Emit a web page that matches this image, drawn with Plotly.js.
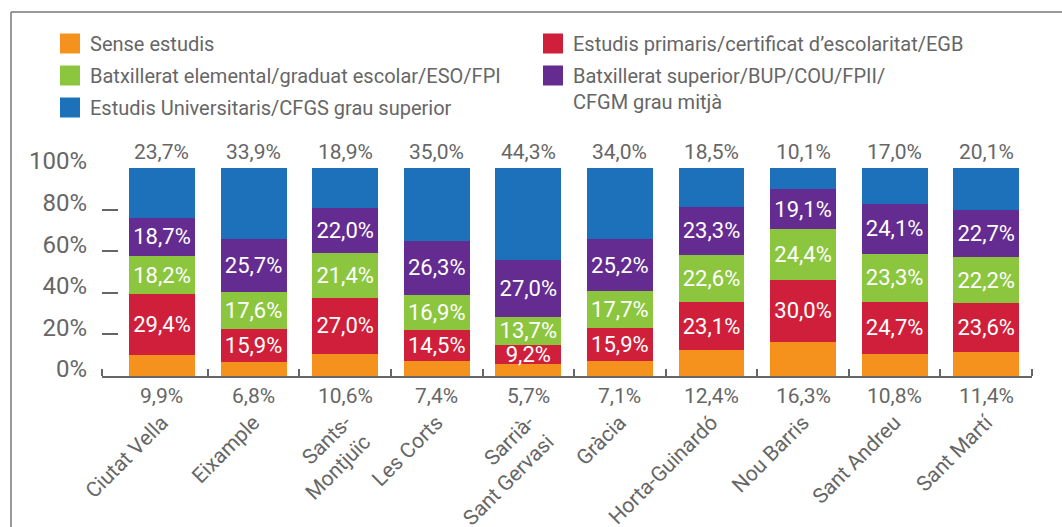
<!DOCTYPE html>
<html>
<head>
<meta charset="utf-8">
<script src="https://cdn.plot.ly/plotly-3.0.1.min.js"></script>
<style>html,body{margin:0;padding:0;background:#fff;}#chart{width:1062px;height:527px;}</style>
</head>
<body>
<div id="chart"></div>
<script>
const categories = ['Ciutat Vella','Eixample','Sants-Montjuïc','Les Corts','Sarrià-Sant Gervasi','Gràcia','Horta-Guinardó','Nou Barris','Sant Andreu','Sant Martí'];
const tickLabels = ['Ciutat Vella','Eixample','Sants-<br>Montjuïc','Les Corts','Sarrià-<br>Sant Gervasi','Gràcia','Horta-Guinardó','Nou Barris','Sant Andreu','Sant Martí'];
const senseEstudis = [9.9,6.8,10.6,7.4,5.7,7.1,12.4,16.3,10.8,11.4];
const primaris = [29.4,15.9,27.0,14.5,9.2,15.9,23.1,30.0,24.7,23.6];
const elemental = [18.2,17.6,21.4,16.9,13.7,17.7,22.6,24.4,23.3,22.2];
const superior = [18.7,25.7,22.0,26.3,27.0,25.2,23.3,19.1,24.1,22.7];
const universitaris = [23.7,33.9,18.9,35.0,44.3,34.0,18.5,10.1,17.0,20.1];
const seriesNames = ['Sense estudis','Estudis primaris/certificat d’escolaritat/EGB','Batxillerat elemental/graduat escolar/ESO/FPI','Batxillerat superior/BUP/COU/FPII/<br>CFGM grau mitjà','Estudis Universitaris/CFGS grau superior'];
const yTickVals = [0,20,40,60,80,100];
const yTickText = ['0%','20%','40%','60%','80%','100%'];

const GRAY = '#666666';
const FONT = 'Roboto, "Noto Sans", sans-serif';
const fmt = v => v.toFixed(1).replace('.', ',') + '%';
const xs = categories.map((c, i) => i);

const series = [senseEstudis, primaris, elemental, superior, universitaris];
const colors = ['#F5921E', '#D01F3A', '#8CC63F', '#642C90', '#1D71BB'];
const legendFor = ['legend', 'legend2', 'legend', 'legend2', 'legend'];

const traces = series.map((vals, k) => ({
  type: 'bar',
  x: xs,
  y: vals,
  name: seriesNames[k],
  customdata: categories,
  marker: {color: colors[k], line: {width: 0}},
  text: (k === 0 || k === 4) ? vals.map(() => '') : vals.map(fmt),
  textposition: (k === 0 || k === 4) ? 'none' : 'inside',
  insidetextanchor: 'middle',
  textangle: 0,
  constraintext: 'none',
  insidetextfont: {color: '#ffffff', size: 22, family: FONT},
  legend: legendFor[k],
  legendgroup: 'g' + k,
  hovertemplate: '%{customdata}: %{y}%<extra>' + seriesNames[k] + '</extra>'
}));

const totals = xs.map(i => series.reduce((s, arr) => s + arr[i], 0));
const annotations = [];
xs.forEach(i => {
  annotations.push({x: i, y: Math.min(totals[i], 100), xref: 'x', yref: 'y', text: fmt(universitaris[i]), showarrow: false,
    yanchor: 'bottom', yshift: 2, font: {size: 21, color: GRAY, family: FONT}});
  annotations.push({x: i, y: 0, xref: 'x', yref: 'y', text: fmt(senseEstudis[i]), showarrow: false,
    yanchor: 'top', yshift: -6, font: {size: 21, color: GRAY, family: FONT}});
});

const minorTicks = [-0.655].concat(xs.map(i => i + 0.5));

const layout = {
  width: 1062, height: 527,
  margin: {l: 102, r: 30, t: 168, b: 151, autoexpand: false},
  paper_bgcolor: '#ffffff', plot_bgcolor: '#ffffff',
  font: {family: FONT, color: GRAY},
  barmode: 'stack',
  bargap: 0.28,
  showlegend: true,
  xaxis: {
    type: 'linear', range: [-0.655, 9.5], tickvals: xs, ticktext: tickLabels,
    tickangle: -45, ticks: '', showgrid: false, zeroline: false,
    showline: true, linecolor: GRAY, linewidth: 2,
    ticklabelstandoff: 24, automargin: false,
    tickfont: {size: 21, color: GRAY, family: FONT},
    minor: {tickvals: minorTicks, ticks: 'inside', ticklen: 7, tickwidth: 2, tickcolor: GRAY, showgrid: false}
  },
  yaxis: {
    range: [0, 100], tickvals: yTickVals, ticktext: yTickText,
    ticks: 'inside', ticklen: 16, tickwidth: 2, tickcolor: GRAY,
    showgrid: false, zeroline: false, showline: false,
    ticklabelstandoff: 14, automargin: false,
    ticklabelshift: -7,
    tickfont: {size: 24, color: GRAY, family: FONT}
  },
  legend: {
    xref: 'container', yref: 'container', x: 50/1062, y: 1 - 24/527, xanchor: 'left', yanchor: 'top',
    orientation: 'v', traceorder: 'grouped', tracegroupgap: 3, valign: 'top',
    font: {size: 20, color: GRAY, family: FONT}, bgcolor: 'rgba(0,0,0,0)', borderwidth: 0
  },
  legend2: {
    xref: 'container', yref: 'container', x: 533/1062, y: 1 - 24/527, xanchor: 'left', yanchor: 'top',
    orientation: 'v', traceorder: 'grouped', tracegroupgap: 3, valign: 'top',
    font: {size: 20, color: GRAY, family: FONT}, bgcolor: 'rgba(0,0,0,0)', borderwidth: 0
  },
  annotations: annotations,
  shapes: [
    {type: 'line', xref: 'paper', yref: 'paper', x0: (11-102)/930, x1: (11-102)/930, y0: (376-527)/208, y1: (376-12)/208,
      line: {color: '#777777', width: 1.5}},
    {type: 'line', xref: 'paper', yref: 'paper', x0: (11-102)/930, x1: (1062-102)/930, y0: (376-12)/208, y1: (376-12)/208,
      line: {color: '#777777', width: 1.5}}
  ]
};

Plotly.newPlot('chart', traces, layout, {displayModeBar: false, staticPlot: true}).then(gd => {
  gd.querySelectorAll('.legendpoints path').forEach(p => p.setAttribute('d', 'M10,10H-10V-10H10Z'));
});
</script>
</body>
</html>
